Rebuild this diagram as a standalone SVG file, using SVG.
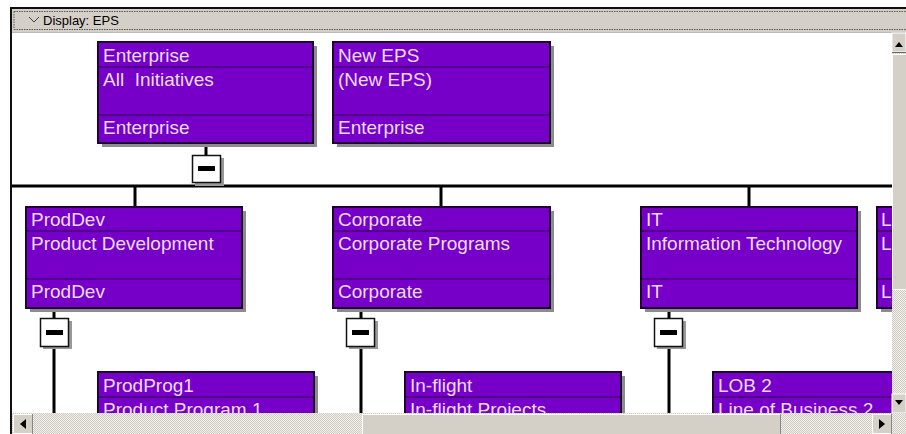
<svg xmlns="http://www.w3.org/2000/svg" width="906" height="434" viewBox="0 0 906 434">
<style>
.bx{fill:#7600c8;stroke:#1c0030;stroke-width:2}
.sh{fill:#8c8c8c}
.dv{stroke:#2a0048;stroke-width:1.2}
.tx{font-family:"Liberation Sans",Arial,sans-serif;font-size:19px;fill:#eedcff;white-space:pre}
.ln{stroke:#000;stroke-width:3;fill:none}
.btn{fill:#fff;stroke:#111;stroke-width:1.5}
.gray{fill:#d4d0c8}
</style>
<defs>
<pattern id="chk" width="2" height="2" patternUnits="userSpaceOnUse">
<rect width="2" height="2" fill="#f2f0ec"/>
<rect width="1" height="1" fill="#cfcbc3"/>
<rect x="1" y="1" width="1" height="1" fill="#cfcbc3"/>
</pattern>
<clipPath id="cv"><rect x="12" y="33" width="880" height="380"/></clipPath>
</defs>
<rect width="906" height="434" fill="#fff"/>
<!-- frame and header -->
<rect x="10" y="7" width="896" height="2" fill="#111"/>
<rect x="10" y="7" width="2" height="427" fill="#111"/>
<rect x="12" y="9" width="894" height="23" class="gray"/>
<line x1="14" y1="11.5" x2="906" y2="11.5" stroke="#555" stroke-width="1" stroke-dasharray="1.5,1"/>
<line x1="14" y1="29.5" x2="906" y2="29.5" stroke="#555" stroke-width="1" stroke-dasharray="1.5,1"/>
<line x1="14" y1="11.5" x2="14" y2="29.5" stroke="#555" stroke-width="1" stroke-dasharray="1.5,1"/>
<line x1="12" y1="32.5" x2="906" y2="32.5" stroke="#bbb" stroke-width="1"/>
<path d="M29,17 L34,22 L39,17" fill="none" stroke="#444" stroke-width="1"/>
<text x="43" y="25" style="font-family:'Liberation Sans',Arial,sans-serif;font-size:13px;fill:#000">Display: EPS</text>
<g clip-path="url(#cv)">
<g id="connectors">
<line class="ln" x1="206" y1="143" x2="206" y2="155"/>
<line class="ln" x1="12" y1="186" x2="892" y2="186"/>
<line class="ln" x1="135" y1="186" x2="135" y2="207"/>
<line class="ln" x1="441" y1="186" x2="441" y2="207"/>
<line class="ln" x1="749" y1="186" x2="749" y2="207"/>
<line class="ln" x1="54" y1="308" x2="54" y2="318"/>
<line class="ln" x1="54" y1="348" x2="54" y2="413"/>
<line class="ln" x1="361" y1="308" x2="361" y2="318"/>
<line class="ln" x1="361" y1="348" x2="361" y2="413"/>
<line class="ln" x1="669" y1="308" x2="669" y2="318"/>
<line class="ln" x1="669" y1="348" x2="669" y2="413"/>
</g>
<g id="btn-enterprise">
<rect x="195" y="158" width="29" height="28" fill="#999"/>
<rect class="btn" x="192.5" y="155.5" width="28" height="27"/>
<rect x="198" y="166" width="17" height="5" fill="#000"/>
</g>
<g id="btn-proddev">
<rect x="43" y="321" width="29" height="28" fill="#999"/>
<rect class="btn" x="40.5" y="318.5" width="28" height="28"/>
<rect x="46" y="330" width="17" height="5" fill="#000"/>
</g>
<g id="btn-corporate">
<rect x="349" y="321" width="29" height="28" fill="#999"/>
<rect class="btn" x="346.5" y="318.5" width="28" height="28"/>
<rect x="352" y="330" width="17" height="5" fill="#000"/>
</g>
<g id="btn-it">
<rect x="657" y="321" width="29" height="28" fill="#999"/>
<rect class="btn" x="654.5" y="318.5" width="28" height="28"/>
<rect x="660" y="330" width="17" height="5" fill="#000"/>
</g>
<g id="node-enterprise">
<rect class="sh" x="102" y="46" width="215" height="101"/>
<rect class="bx" x="98" y="42" width="215" height="101"/>
<line class="dv" x1="99" y1="67" x2="312" y2="67"/>
<line class="dv" x1="99" y1="115" x2="312" y2="115"/>
<text class="tx" x="103" y="62">Enterprise</text>
<text class="tx" x="103" y="86">All  Initiatives</text>
<text class="tx" x="103" y="134">Enterprise</text>
</g>
<g id="node-neweps">
<rect class="sh" x="337" y="46" width="217" height="101"/>
<rect class="bx" x="333" y="42" width="217" height="101"/>
<line class="dv" x1="334" y1="67" x2="549" y2="67"/>
<line class="dv" x1="334" y1="115" x2="549" y2="115"/>
<text class="tx" x="338" y="62">New EPS</text>
<text class="tx" x="338" y="86">(New EPS)</text>
<text class="tx" x="338" y="134">Enterprise</text>
</g>
<g id="node-proddev">
<rect class="sh" x="30" y="211" width="216" height="101"/>
<rect class="bx" x="26" y="207" width="216" height="101"/>
<line class="dv" x1="27" y1="231" x2="241" y2="231"/>
<line class="dv" x1="27" y1="279" x2="241" y2="279"/>
<text class="tx" x="31" y="226">ProdDev</text>
<text class="tx" x="31" y="250">Product Development</text>
<text class="tx" x="31" y="298">ProdDev</text>
</g>
<g id="node-corporate">
<rect class="sh" x="337" y="211" width="217" height="101"/>
<rect class="bx" x="333" y="207" width="217" height="101"/>
<line class="dv" x1="334" y1="231" x2="549" y2="231"/>
<line class="dv" x1="334" y1="279" x2="549" y2="279"/>
<text class="tx" x="338" y="226">Corporate</text>
<text class="tx" x="338" y="250">Corporate Programs</text>
<text class="tx" x="338" y="298">Corporate</text>
</g>
<g id="node-it">
<rect class="sh" x="645" y="211" width="216" height="101"/>
<rect class="bx" x="641" y="207" width="216" height="101"/>
<line class="dv" x1="642" y1="231" x2="856" y2="231"/>
<line class="dv" x1="642" y1="279" x2="856" y2="279"/>
<text class="tx" x="646" y="226">IT</text>
<text class="tx" x="646" y="250">Information Technology</text>
<text class="tx" x="646" y="298">IT</text>
</g>
<g id="node-l">
<rect class="sh" x="881" y="211" width="216" height="101"/>
<rect class="bx" x="877" y="207" width="216" height="101"/>
<line class="dv" x1="878" y1="231" x2="892" y2="231"/>
<line class="dv" x1="878" y1="279" x2="892" y2="279"/>
<text class="tx" x="881" y="226">L</text>
<text class="tx" x="881" y="250">L</text>
<text class="tx" x="881" y="298">L</text>
</g>
<g id="node-prodprog1">
<rect class="sh" x="102" y="376" width="216" height="101"/>
<rect class="bx" x="98" y="372" width="216" height="101"/>
<line class="dv" x1="99" y1="397" x2="313" y2="397"/>
<text class="tx" x="103" y="392">ProdProg1</text>
<text class="tx" x="103" y="416">Product Program 1</text>
</g>
<g id="node-inflight">
<rect class="sh" x="409" y="376" width="216" height="101"/>
<rect class="bx" x="405" y="372" width="216" height="101"/>
<line class="dv" x1="406" y1="397" x2="620" y2="397"/>
<text class="tx" x="410" y="392">In-flight</text>
<text class="tx" x="410" y="416">In-flight Projects</text>
</g>
<g id="node-lob2">
<rect class="sh" x="717" y="376" width="216" height="101"/>
<rect class="bx" x="713" y="372" width="216" height="101"/>
<line class="dv" x1="714" y1="397" x2="928" y2="397"/>
<text class="tx" x="718" y="392">LOB 2</text>
<text class="tx" x="718" y="416">Line of Business 2</text>
</g>
</g>
<!-- vertical scrollbar -->
<rect x="892" y="33" width="14" height="380" fill="url(#chk)"/>
<rect x="892" y="33" width="14" height="19" class="gray" stroke="#fff" stroke-width="1"/>
<path d="M895,47 L899,42 L903,47 Z" fill="#000"/>
<line x1="892" y1="52.5" x2="906" y2="52.5" stroke="#666"/>
<rect x="892.5" y="54.5" width="14" height="235" class="gray" stroke="#fff" stroke-width="1"/>
<rect x="892" y="394" width="14" height="19" class="gray" stroke="#fff" stroke-width="1"/>
<path d="M895,400 L899,405 L903,400 Z" fill="#000"/>
<!-- horizontal scrollbar -->
<rect x="12" y="413" width="894" height="21" fill="url(#chk)"/>
<rect x="13.5" y="414.5" width="19" height="19" class="gray" stroke="#fff" stroke-width="1"/>
<line x1="32.5" y1="414" x2="32.5" y2="434" stroke="#888"/>
<path d="M26,419 L20,424 L26,429 Z" fill="#000"/>
<rect x="362.5" y="414.5" width="418" height="20" class="gray" stroke="#fff" stroke-width="1"/>
<line x1="780.5" y1="414" x2="780.5" y2="434" stroke="#888"/>
<rect x="872.5" y="414.5" width="19" height="19" class="gray" stroke="#fff" stroke-width="1"/>
<line x1="891.5" y1="414" x2="891.5" y2="434" stroke="#888"/>
<path d="M879,419 L885,424 L879,429 Z" fill="#000"/>
</svg>
